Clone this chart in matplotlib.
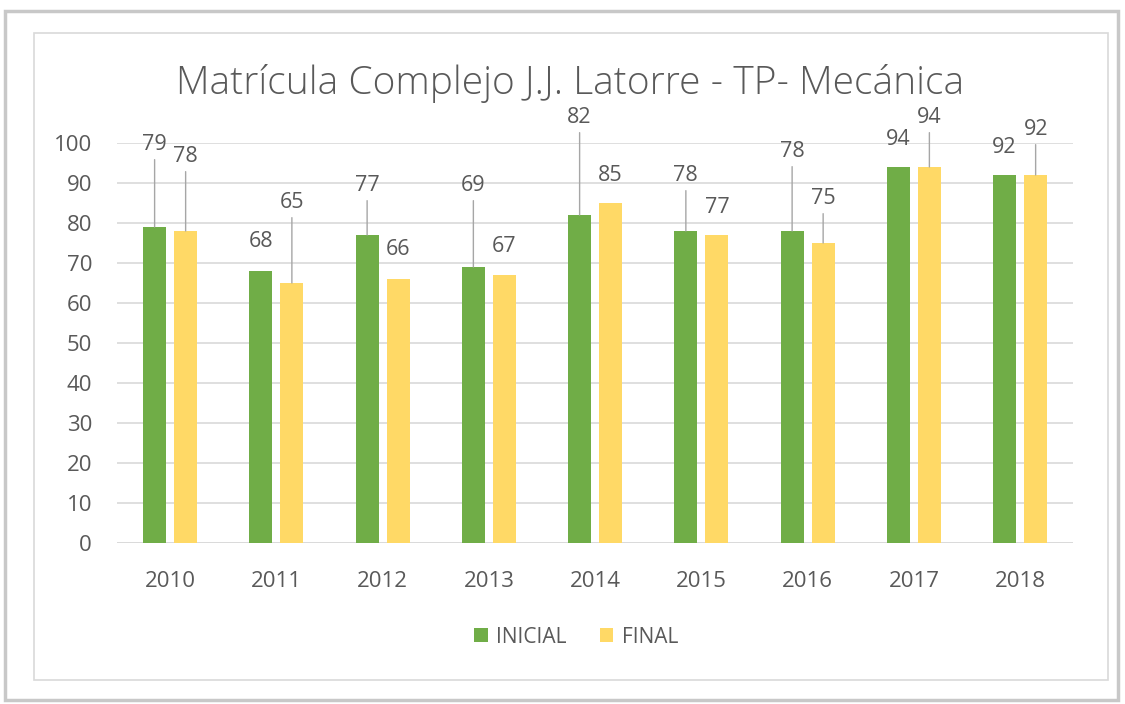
import numpy as np
import matplotlib.pyplot as plt
import matplotlib.patches as mpatches

years = ["2010", "2011", "2012", "2013", "2014", "2015", "2016", "2017", "2018"]
inicial = [79, 68, 77, 69, 82, 78, 78, 94, 92]
final = [78, 65, 66, 67, 85, 77, 75, 94, 92]

# where Excel put the callout labels (height above the bar top, in axis units)
lift_inicial = [20.5, 7.25, 12.25, 20.25, 24.25, 13.75, 19.75, 6.75, 6.75]
lift_final = [18.5, 20.0, 7.25, 7.0, 6.75, 6.75, 11.0, 12.25, 11.25]

green = "#70AD47"
yellow = "#FFD966"
grey = "#595959"

plt.rcParams['font.family'] = ['Open Sans', 'DejaVu Sans']

fig = plt.figure(figsize=(11.25, 7.04), dpi=100)
fig.patch.set_facecolor("white")

# chart frame with a faint shadow
fig.patches.append(mpatches.Rectangle((0.004, 0.005), 0.99, 0.98, transform=fig.transFigure,
                                      fill=False, edgecolor="#C8C8C8", linewidth=2.5))
fig.patches.append(mpatches.Rectangle((0.030, 0.034), 0.955, 0.919, transform=fig.transFigure,
                                      fill=False, edgecolor="#D9D9D9", linewidth=1.2))

ax = fig.add_axes([0.104, 0.2287, 0.85, 0.5682])

x = np.arange(len(years))
w = 0.215
off = 0.146
ax.bar(x - off, inicial, w, color=green, label="INICIAL", zorder=3)
ax.bar(x + off, final, w, color=yellow, label="FINAL", zorder=3)

ax.set_ylim(0, 100)
ax.set_xlim(-0.5, len(years) - 0.5)
ax.set_yticks(np.arange(0, 101, 10))
ax.set_xticks(x)
ax.set_xticklabels(years)
ax.yaxis.grid(True, color="#D9D9D9", linewidth=1.2, zorder=0)
for s in ax.spines.values():
    s.set_visible(False)
ax.tick_params(length=0, colors=grey, labelsize=16)
ax.tick_params(axis="y", pad=18)
ax.tick_params(axis="x", pad=20)
ax.axhline(0, color="#D9D9D9", linewidth=1.2, zorder=2)


def callouts(xs, vals, lifts):
    for xi, v, d in zip(xs, vals, lifts):
        arrow = dict(arrowstyle="-", color="#A6A6A6", lw=1, shrinkA=1, shrinkB=0) if d > 9 else None
        ax.annotate(str(v), xy=(xi, v), xytext=(xi, v + d), ha="center", va="center",
                    fontsize=15.5, color=grey, annotation_clip=False, arrowprops=arrow, zorder=4)


callouts(x - off, inicial, lift_inicial)
callouts(x + off, final, lift_final)

fig.text(0.507, 0.882, "Matrícula Complejo J.J. Latorre - TP- Mecánica", ha="center", va="center",
         fontsize=28, color=grey, fontweight="light")

fig.legend(loc="center", bbox_to_anchor=(0.512, 0.095), ncol=2, frameon=False, fontsize=15,
           labelcolor=grey, handlelength=0.65, handleheight=0.65, handletextpad=0.4, columnspacing=1.6)

fig.savefig("out.png", dpi=100)
